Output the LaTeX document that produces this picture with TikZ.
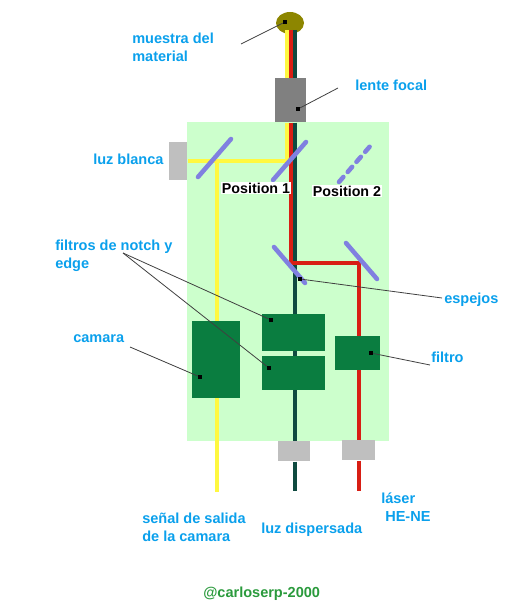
\documentclass[tikz,border=0pt]{standalone}
\usepackage{fontspec}
\setmainfont{Liberation Sans}
\usetikzlibrary{shapes.geometric, positioning}
\definecolor{bench}{HTML}{CCFFCC}
\definecolor{labelblue}{HTML}{0AA0EC}
\definecolor{blockgreen}{HTML}{0A7D40}
\definecolor{mirrorblue}{HTML}{8080E0}
\definecolor{beamyellow}{HTML}{FFF840}
\definecolor{beamred}{HTML}{D81E14}
\definecolor{beamdark}{HTML}{0F4A40}
\definecolor{signgreen}{HTML}{2A9A3C}
\begin{document}
\begin{tikzpicture}[
  x=0.75pt, y=-0.75pt,
  box/.style={rectangle, inner sep=0pt, anchor=north west},
  graybox/.style={box, fill=black!25},
  block/.style={box, fill=blockgreen},
  label/.style={text=labelblue, font=\fontsize{10.9}{13.5}\selectfont\bfseries, align=left, anchor=west, inner sep=0pt},
  position/.style={fill=white, font=\fontsize{10.7}{12}\selectfont\bfseries, inner sep=0.5pt},
  mirror/.style={line width=3.4pt, mirrorblue, line cap=round},
  yellowbeam/.style={line width=3pt, beamyellow},
  redbeam/.style={line width=2.6pt, beamred},
  darkbeam/.style={line width=2.6pt, beamdark},
  leader/.style={line width=0.6pt, black!75},
  dot/.style={rectangle, fill=black, inner sep=0pt, minimum size=3pt}
]
\useasboundingbox (0,0) rectangle (515,609);

% Bench
\node[box, fill=bench, minimum width=151pt, minimum height=239.25pt] (bench) at (187,122) {};

% Parts
\node[ellipse, fill=olive, inner sep=0pt, minimum width=21pt, minimum height=16.5pt] (muestra) at (290,23) {};
\node[box, fill=black!50, minimum width=23.25pt, minimum height=33pt] (lente) at (275,78) {};
\node[graybox, minimum width=13.5pt, minimum height=28.5pt] (fuente) at (169,142) {};
\node[graybox, minimum width=24pt, minimum height=15pt] (salida) at (278,441) {};
\node[graybox, minimum width=24.75pt, minimum height=15pt] (laser) at (342,440) {};

% Free ends of the beams
\coordinate (yellowtop) at (287,30);
\coordinate (yellowcorner) at (287,161);
\coordinate (yellowsplit) at (217,161);
\coordinate (yellowend) at (217,492);
\coordinate (redtop) at (291,30);
\coordinate (redcorner) at (291,263);
\coordinate (redturn) at (359,263);
\coordinate (redend) at (359,491);
\coordinate (darktop) at (295,30);
\coordinate (darkend) at (295,491);

% Beams
\draw[yellowbeam] (yellowtop) -- (lente.north -| yellowtop);
\draw[yellowbeam] (lente.south -| yellowtop) -- (yellowcorner) -- (fuente.east |- yellowcorner);
\draw[yellowbeam] (yellowsplit) -- (yellowend);
\draw[darkbeam] (darktop) -- (lente.north -| darktop);
\draw[darkbeam] (lente.south -| darktop) -- (salida.north -| darktop);
\draw[darkbeam] (salida.south -| darktop) -- (darkend);
\draw[redbeam] (redtop) -- (lente.north -| redtop);
\draw[redbeam] (lente.south -| redtop) -- (redcorner) -- (redturn) -- (laser.north -| redturn);
\draw[redbeam] (laser.south -| redturn) -- (redend);

% Blocks
\node[block, minimum width=36pt, minimum height=57.75pt] (camara) at (192,321) {};
\node[block, minimum width=47.25pt, minimum height=27.75pt] (notch) at (262,314) {};
\node[block, minimum width=47.25pt, minimum height=25.5pt] (edge) at (262,356) {};
\node[block, minimum width=33.75pt, minimum height=25.5pt] (filtro) at (335,336) {};

% Mirrors
\coordinate (ma) at (198,177); \coordinate (mb) at (231,139);
\coordinate (mc) at (273,180); \coordinate (md) at (306,142);
\coordinate (me) at (339,182); \coordinate (mf) at (372,144);
\coordinate (mg) at (274,247); \coordinate (mh) at (305,283);
\coordinate (mi) at (346,243); \coordinate (mj) at (377,279);
\draw[mirror] (ma) -- (mb);
\draw[mirror] (mc) -- (md);
\draw[mirror, dash pattern=on 5pt off 5pt] (me) -- (mf);
\draw[mirror] (mg) -- (mh);
\draw[mirror] (mi) -- (mj);

% Labels
\node[label] (lmuestra) at (132,47) {muestra del\\material};
\node[label] (llente) at (355,85) {lente focal};
\node[label] (lblanca) at (93,159) {luz blanca};
\node[label] (lfiltros) at (55,256) {filtros de notch y\\edge};
\node[label] (lcamara) at (73,339) {camara};
\node[label] (lespejos) at (444,300) {espejos};
\node[label] (lfiltro) at (431,357) {filtro};
\node[label] (lsenal) at (142,527) {señal de salida\\de la camara};
\node[label] (ldispersada) at (261,530) {luz dispersada};
\node[label] (llaser) at (381,507) {láser\\\hspace*{3pt}HE-NE};
\node[label, text=signgreen] (lfirma) at (203,594) {@carloserp-2000};
\node[position] (pos1) at (256,188) {Position 1};
\node[position] (pos2) at (347,191) {Position 2};

% Leaders
\coordinate (c1) at (241,44); \coordinate (c2) at (338,88);
\coordinate (c3) at (442,298); \coordinate (c4) at (430,365);
\coordinate (c5) at (130,347); \coordinate (c6) at (123,253);
\node[dot] (d1) at (285,22) {};
\node[dot] (d2) at (298,109) {};
\node[dot] (d3) at (300,279) {};
\node[dot] (d4) at (371,353) {};
\node[dot] (d5) at (200,377) {};
\node[dot] (d6) at (271,320) {};
\node[dot] (d7) at (269,368) {};
\draw[leader] (c1) -- (d1);
\draw[leader] (c2) -- (d2);
\draw[leader] (c3) -- (d3);
\draw[leader] (c4) -- (d4);
\draw[leader] (c5) -- (d5);
\draw[leader] (c6) -- (d6);
\draw[leader] (c6) -- (d7);
\end{tikzpicture}
\end{document}
